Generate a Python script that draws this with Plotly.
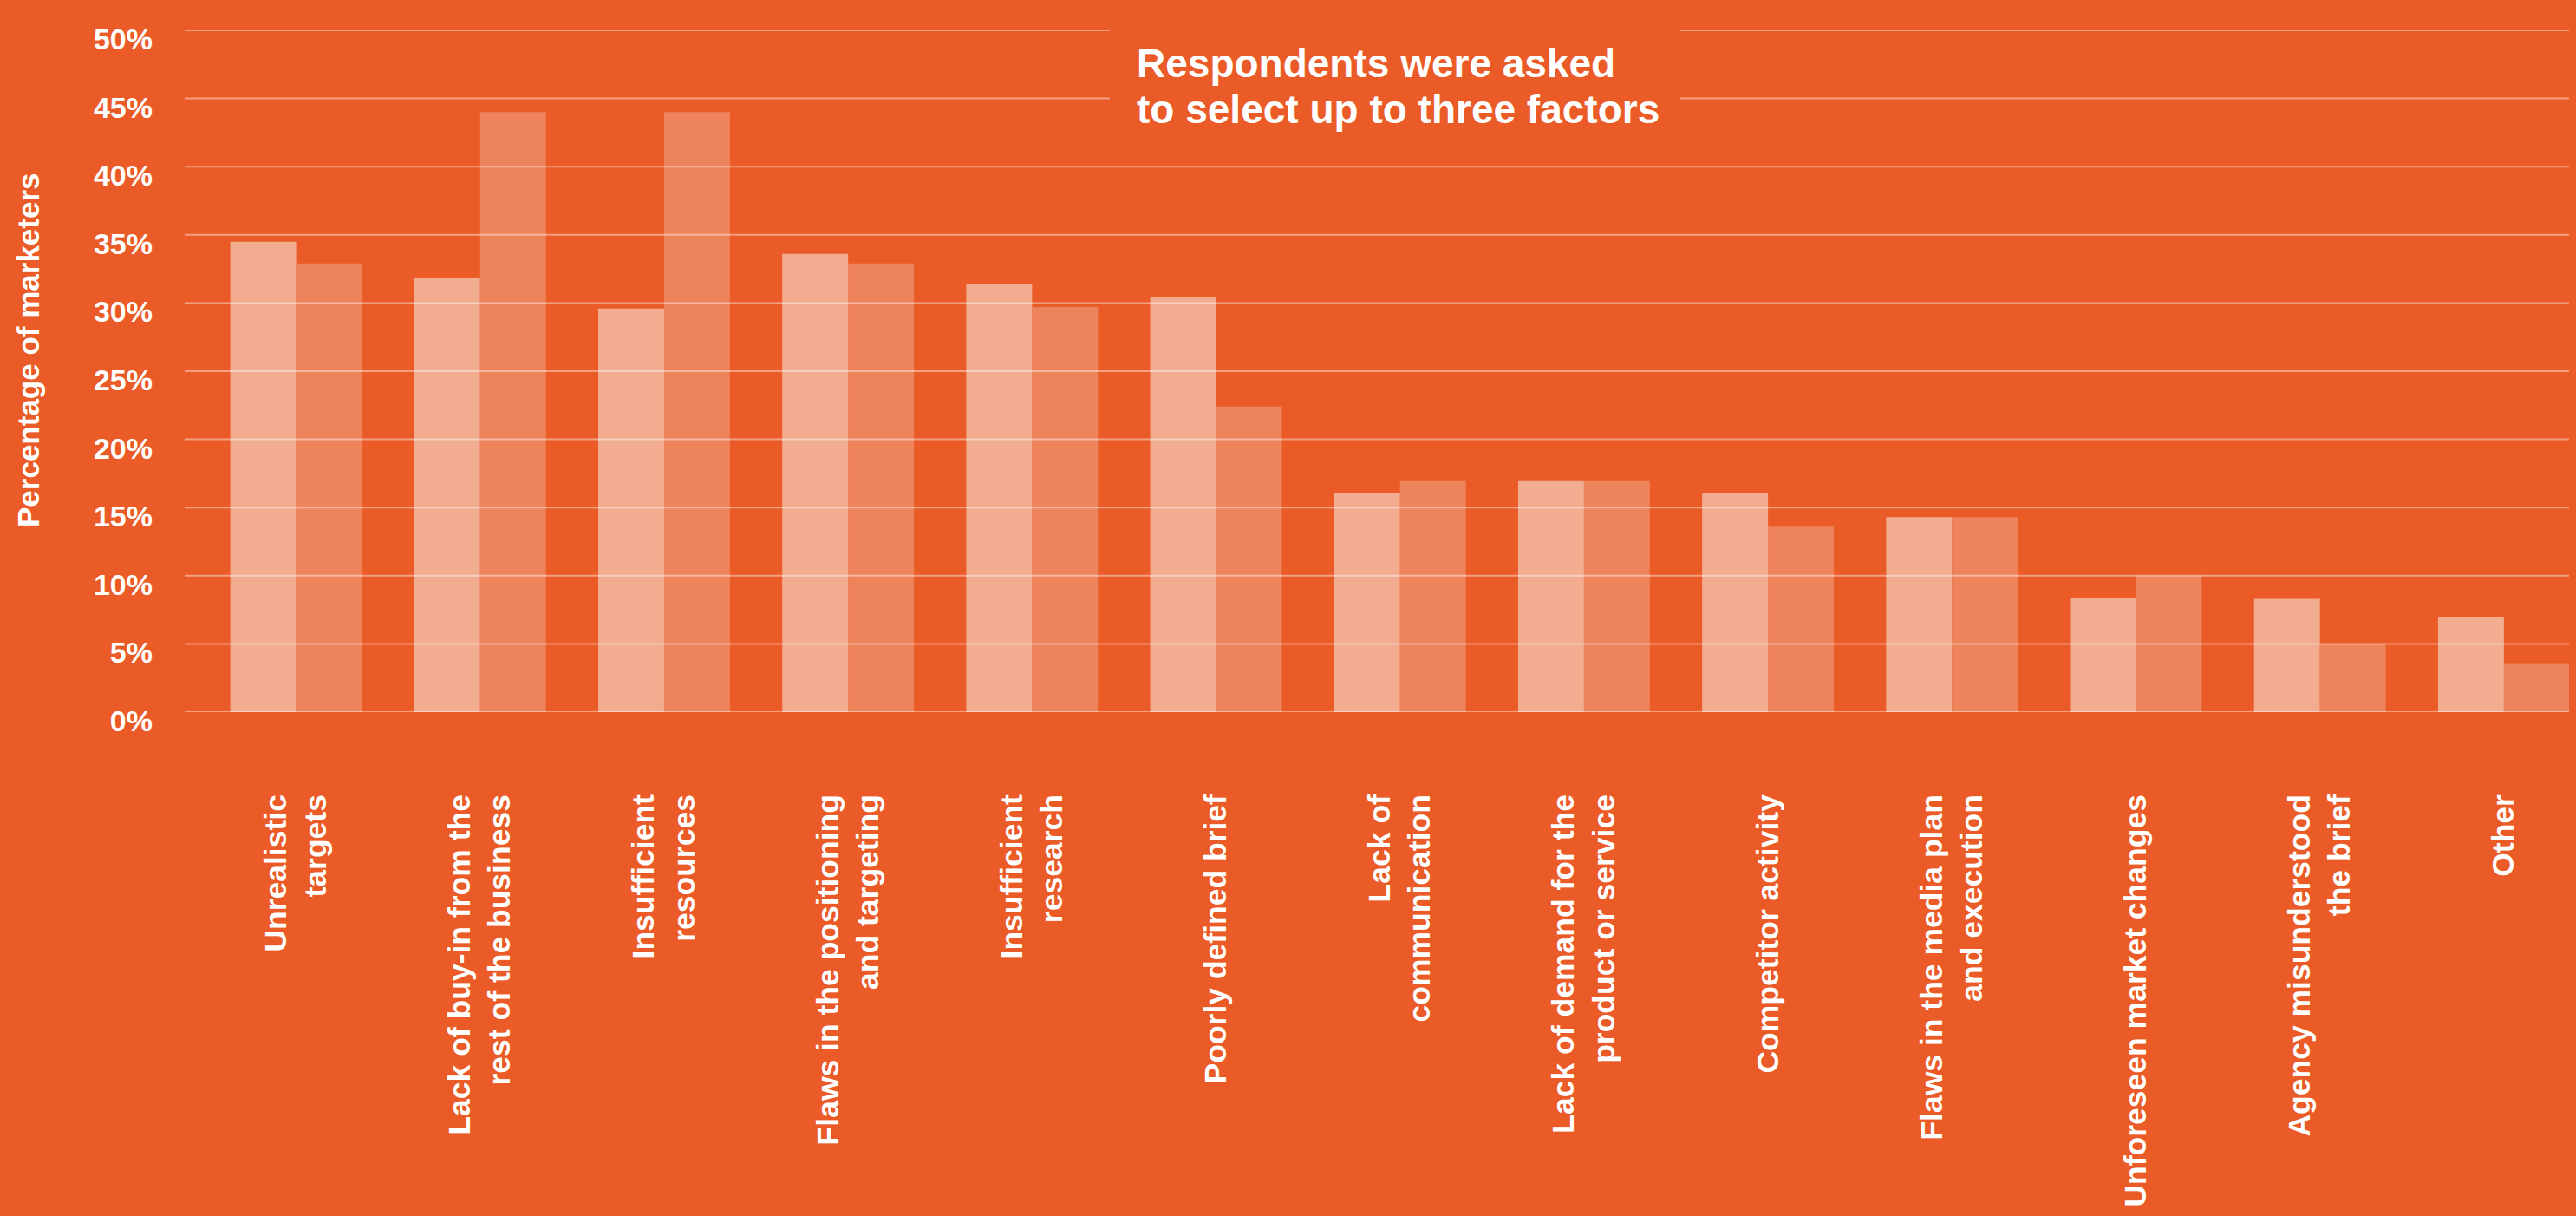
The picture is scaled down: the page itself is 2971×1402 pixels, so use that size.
import plotly.graph_objects as go

# Factors behind campaign under-performance, share of marketers (%)
categories = [
    "Unrealistic<br>targets",
    "Lack of buy-in from the<br>rest of the business",
    "Insufficient<br>resources",
    "Flaws in the positioning<br>and targeting",
    "Insufficient<br>research",
    "Poorly defined brief",
    "Lack of<br>communication",
    "Lack of demand for the<br>product or service",
    "Competitor activity",
    "Flaws in the media plan<br>and execution",
    "Unforeseen market changes",
    "Agency misunderstood<br>the brief",
    "Other",
]
series_1 = [34.5, 31.8, 29.6, 33.6, 31.4, 30.4, 16.1, 17.0, 16.1, 14.3, 8.4, 8.3, 7.0]
series_2 = [32.9, 44.0, 44.0, 32.9, 29.7, 22.4, 17.0, 17.0, 13.6, 14.3, 10.0, 5.0, 3.6]
y_ticks = [0, 5, 10, 15, 20, 25, 30, 35, 40, 45, 50]
y_tick_labels = [f"{v}%" for v in y_ticks]

BG = "#EA5B27"
LIGHT = "#F2AC8F"
DARK = "#EE845C"
GRID = "rgba(255,255,255,0.42)"
FONT = "Liberation Sans, Arial, sans-serif"

W, H = 2971, 1402
ML, MR, MT, MB = 213, 8, 35, 581
PW, PH = W - ML - MR, H - MT - MB


def px_x(px):
    return (px - ML) / PW


def px_y(py):
    return (H - MB - py) / PH


fig = go.Figure()
fig.add_trace(go.Bar(x=list(range(len(categories))), y=series_1, name="Series 1",
                     marker=dict(color=LIGHT, line=dict(width=0))))
fig.add_trace(go.Bar(x=list(range(len(categories))), y=series_2, name="Series 2",
                     marker=dict(color=DARK, line=dict(width=0))))

# horizontal grid lines drawn above the bars
for v in y_ticks:
    fig.add_shape(type="line", xref="paper", yref="y", x0=0, x1=1, y0=v, y1=v,
                  line=dict(color=GRID, width=2), layer="above")

# panel behind the note so the grid lines stop around it
fig.add_shape(type="rect", xref="paper", yref="paper",
              x0=px_x(1280), x1=px_x(1938), y0=px_y(130), y1=px_y(22),
              fillcolor=BG, line=dict(width=0), layer="above")

note_font = dict(family=FONT, size=46, color="white", weight="bold")
fig.add_annotation(text="Respondents were asked", xref="paper", yref="paper",
                   x=px_x(1309), y=px_y(73), xanchor="left", yanchor="middle",
                   showarrow=False, font=note_font)
fig.add_annotation(text="to select up to three factors", xref="paper", yref="paper",
                   x=px_x(1309), y=px_y(126), xanchor="left", yanchor="middle",
                   showarrow=False, font=note_font)

fig.add_annotation(text="Percentage of marketers", xref="paper", yref="paper",
                   x=px_x(33), y=px_y(404), xanchor="center", yanchor="middle",
                   textangle=-90, showarrow=False,
                   font=dict(family=FONT, size=35, color="white", weight="bold"))

fig.update_layout(
    width=W, height=H, autosize=False,
    margin=dict(l=ML, r=MR, t=MT, b=MB, pad=0),
    paper_bgcolor=BG, plot_bgcolor=BG,
    barmode="group", bargap=0.284, bargroupgap=0,
    showlegend=False,
    xaxis=dict(
        range=[-0.606, 12.354], tickmode="array",
        tickvals=list(range(len(categories))), ticktext=categories,
        tickangle=-90, showgrid=False, zeroline=False, showline=False,
        ticks="", ticklabelstandoff=87, automargin=False,
        tickfont=dict(family=FONT, size=35.5, color="white", weight="bold"),
    ),
    yaxis=dict(
        range=[0, 50], tickmode="array", tickvals=y_ticks, ticktext=y_tick_labels,
        showgrid=False, zeroline=False, showline=False, ticks="",
        ticklabelstandoff=36, ticklabelshift=10, automargin=False,
        tickfont=dict(family=FONT, size=34, color="white", weight="bold"),
    ),
)

fig.write_html("out.html")
